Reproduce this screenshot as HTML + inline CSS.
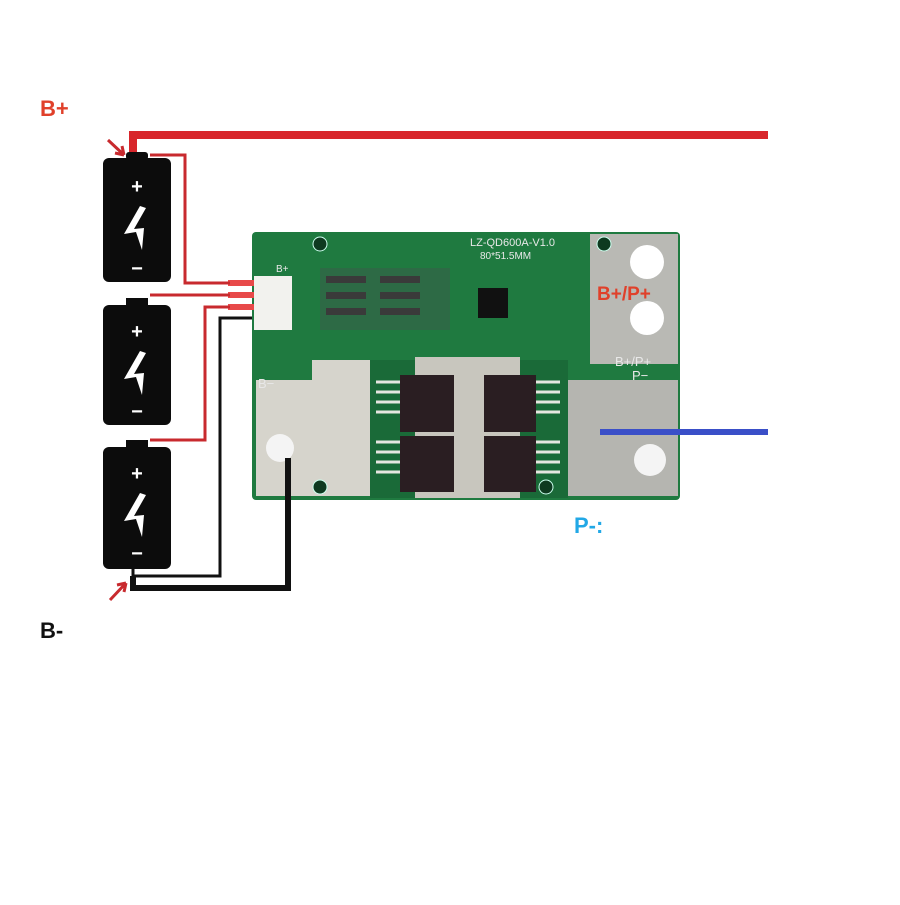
<!DOCTYPE html>
<html><head><meta charset="utf-8"><style>
body{margin:0;background:#fff;width:900px;height:900px;overflow:hidden;font-family:"Liberation Sans",sans-serif}
</style></head><body>
<svg width="900" height="900" viewBox="0 0 900 900" xmlns="http://www.w3.org/2000/svg">
<rect width="900" height="900" fill="#fff"/>
<!-- PCB -->
<rect x="252" y="232" width="428" height="268" rx="4" fill="#1f7a40"/>
<rect x="590" y="234" width="88" height="130" fill="#b9b9b4"/>
<rect x="568" y="380" width="110" height="116" fill="#b5b5b0"/>
<path d="M256 380 H312 V360 H370 V496 H256 Z" fill="#d6d4cc"/>
<rect x="370" y="360" width="198" height="138" fill="#1a6a38"/>
<rect x="415" y="357" width="105" height="141" fill="#c8c6be"/>
<g fill="#2a1e22">
<rect x="400" y="375" width="54" height="57"/>
<rect x="484" y="375" width="52" height="57"/>
<rect x="400" y="436" width="54" height="56"/>
<rect x="484" y="436" width="52" height="56"/>
</g>
<g stroke="#e6e6e0" stroke-width="3">
<path d="M376 382h24M376 392h24M376 402h24M376 412h24M376 442h24M376 452h24M376 462h24M376 472h24"/>
<path d="M536 382h24M536 392h24M536 402h24M536 412h24M536 442h24M536 452h24M536 462h24M536 472h24"/>
</g>
<circle cx="647" cy="262" r="17" fill="#fff"/>
<circle cx="647" cy="318" r="17" fill="#fff"/>
<circle cx="650" cy="460" r="16" fill="#f4f4f4"/>
<circle cx="280" cy="448" r="14" fill="#f4f4f4"/>
<g fill="#0e3a20" stroke="#cfe" stroke-width="1">
<circle cx="320" cy="244" r="7"/><circle cx="604" cy="244" r="7"/>
<circle cx="320" cy="487" r="7"/><circle cx="546" cy="487" r="7"/>
</g>
<rect x="478" y="288" width="30" height="30" fill="#111"/>
<rect x="320" y="268" width="130" height="62" fill="#2d6a45"/>
<g fill="#3a3a3a"><rect x="326" y="276" width="40" height="7"/><rect x="326" y="292" width="40" height="7"/><rect x="326" y="308" width="40" height="7"/><rect x="380" y="276" width="40" height="7"/><rect x="380" y="292" width="40" height="7"/><rect x="380" y="308" width="40" height="7"/></g>
<rect x="254" y="276" width="38" height="54" fill="#f2f2ee"/>
<g fill="#e84a4a"><rect x="228" y="280" width="26" height="6"/><rect x="228" y="292" width="26" height="6"/><rect x="228" y="304" width="26" height="6"/></g>
<text x="470" y="246" font-size="11" fill="#e8e8e8">LZ-QD600A-V1.0</text>
<text x="480" y="259" font-size="10" fill="#e8e8e8">80*51.5MM</text>
<text x="615" y="366" font-size="13" fill="#e8e8e8">B+/P+</text>
<text x="632" y="380" font-size="13" fill="#e8e8e8">P−</text>
<text x="258" y="388" font-size="13" fill="#e8e8e8">B−</text>
<text x="276" y="272" font-size="10" fill="#e8e8e8">B+</text>
<text x="597" y="300" font-size="19" font-weight="bold" fill="#e0402a">B+/P+</text>
<!-- wires -->
<path d="M133 155 V135 H768" stroke="#d8262b" stroke-width="8" fill="none"/>
<path d="M150 155 H185 V283 H230 M150 295 H230 M150 440 H205 V307 H230" stroke="#c82a2e" stroke-width="3" fill="none"/>
<path d="M133 565 V576 H220 V318 H252" stroke="#111" stroke-width="3" fill="none"/>
<path d="M133 576 V588 H288 V458" stroke="#111" stroke-width="6" fill="none"/>
<line x1="600" y1="432" x2="768" y2="432" stroke="#3a4fc8" stroke-width="6"/>
<!-- batteries -->
<g fill="#0c0c0c">
<rect x="103" y="158" width="68" height="124" rx="6"/><rect x="126" y="152" width="22" height="8" rx="3"/>
<rect x="103" y="305" width="68" height="120" rx="6"/><rect x="126" y="298" width="22" height="9"/>
<rect x="103" y="447" width="68" height="122" rx="6"/><rect x="126" y="440" width="22" height="9"/>
</g>
<g fill="#fff" font-weight="bold" font-size="20" text-anchor="middle">
<text x="137" y="193">+</text><text x="137" y="275">−</text>
<text x="137" y="338">+</text><text x="137" y="418">−</text>
<text x="137" y="480">+</text><text x="137" y="560">−</text>
</g>
<g fill="#fff">
<polygon points="140,206 124,234 136,232 142,250 144,228 134,229 146,208"/>
<polygon points="140,351 124,379 136,377 142,395 144,373 134,374 146,353"/>
<polygon points="140,493 124,521 136,519 142,537 144,515 134,516 146,495"/>
</g>
<!-- arrows -->
<path d="M108 140 L124 155 M124 155 l-2 -9 M124 155 l-9 -2" stroke="#c82a2e" stroke-width="3" fill="none"/>
<path d="M126 583 L110 600 M126 583 l-9 2 M126 583 l-2 9" stroke="#c82a2e" stroke-width="3" fill="none"/>
<text x="40" y="116" font-size="22" font-weight="bold" fill="#e0402a">B+</text>
<text x="40" y="638" font-size="22" font-weight="bold" fill="#111">B-</text>
<text x="574" y="533" font-size="22" font-weight="bold" fill="#22a8e6">P-:</text>
</svg>
</body></html>
